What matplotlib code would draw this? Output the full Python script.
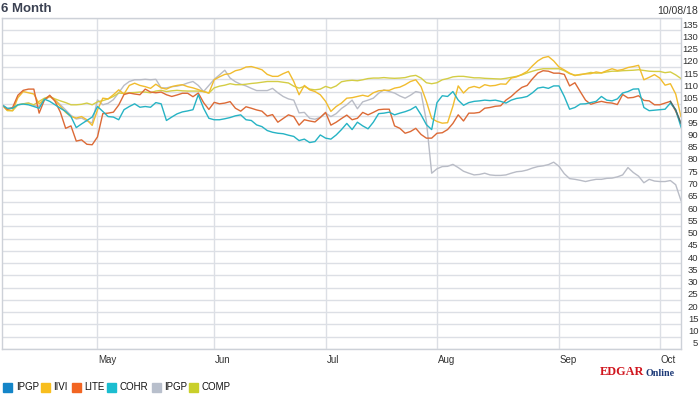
import matplotlib
matplotlib.use('Agg')
import matplotlib.pyplot as plt
from matplotlib.patches import Rectangle
import numpy as np

# normalised prices (start = 100), one value per trading day
cohr = [99.6, 98.2, 98.2, 99.6, 99.9, 99.6, 98.9, 98.2, 101.9, 101,
        99.6, 98.2, 96.9, 94.8, 90.3, 91.8, 93.2, 94.6, 98.9, 96.9,
        94.8, 94.6, 93.5, 97.6, 98.9, 100, 98.6, 98.9, 98.6, 100.5,
        100, 93.2, 94.6, 95.9, 96.7, 97.1, 97.6, 103.7, 98.2, 94.1,
        93.5, 93.5, 93.9, 94.4, 95.1, 95.5, 93.5, 93.2, 91.4, 90.7,
        89.1, 88.4, 88, 87.8, 87.2, 86.7, 85, 85.6, 84.2, 84.6,
        87.3, 86, 85.6, 87.3, 89.5, 92, 89.5, 92.5, 91, 89.8,
        92.5, 96, 96.2, 96.6, 95.5, 96.2, 96.8, 97.6, 98.9, 95.5,
        91.5, 89.5, 100.5, 103.3, 103, 105, 101.5, 99.4, 100.5, 101,
        101.2, 101.5, 101.3, 101.5, 101, 100.3, 101.5, 102.2, 102.5, 103,
        104.5, 106.4, 106.8, 106.3, 107.3, 107.3, 103, 97.8, 98.5, 99.9,
        100, 100.5, 101, 103, 101.5, 101.2, 102, 104.4, 105, 106,
        106.1, 98.5, 97.2, 97.4, 97.6, 97.8, 100.3, 97.6, 90.5]

lite = [99.6, 97.8, 98.5, 103.5, 105.5, 106, 106, 96.2, 101.6, 103.5,
        101, 96.6, 90, 91, 84.8, 85.3, 83.5, 83.3, 86.5, 96,
        96.2, 96.6, 99.5, 103.8, 104.4, 104, 103.7, 106, 104.8, 104.5,
        104.8, 103.7, 103, 103.6, 104.3, 104.3, 102.9, 104.4, 100.5, 97.7,
        100.6, 100, 100.3, 100.9, 98.2, 97, 98.8, 98.2, 97.5, 97,
        95, 95.6, 92.5, 94, 95.5, 94.8, 91.3, 93.5, 93, 92.6,
        94.4, 96.5, 91.3, 92.5, 94, 95.4, 93.5, 94.1, 96.5, 95.5,
        96.5, 97.6, 97.8, 97.8, 91, 90, 88, 88.7, 90, 87.5,
        86, 86, 88, 88.2, 89.5, 92, 95.5, 93, 96.2, 96.2,
        96.5, 98.2, 98.5, 99, 99.2, 101.5, 103, 105, 106.7, 107.5,
        110.2, 112.5, 113.5, 113.3, 112.5, 112.5, 112, 107.3, 108.6, 105,
        101.5, 99.8, 100.5, 101, 100.5, 100.3, 99.7, 103.8, 102.4, 102.6,
        103.3, 101.4, 101.2, 99.6, 99.6, 100.3, 101, 97, 92]

ipgp = [99.6, 97.6, 98.2, 99.6, 100, 100.3, 99.3, 99, 101.6, 103,
        101.6, 99.6, 97.5, 95.3, 93.8, 94.2, 93, 92.2, 101.6, 99.6,
        100.2, 101.7, 104.5, 107.5, 109.1, 109.8, 109.8, 110, 109.8, 110,
        106.5, 106.5, 107, 107.2, 107.7, 108.5, 109.1, 107.5, 105, 107.5,
        110, 111.8, 113.7, 110.5, 109, 108, 107.3, 106.3, 105.4, 105.4,
        105.4, 106.3, 104.5, 103, 102, 101.5, 96.3, 96.5, 94.1, 93.7,
        94.5, 96.2, 94.8, 96, 98.1, 99.6, 101.5, 98, 100.8, 101.5,
        102.3, 104.3, 105.7, 105, 104.4, 103.2, 102.3, 103.5, 105, 104.5,
        93, 71.7, 73.5, 74.4, 74.5, 75.3, 74, 72.5, 71.7, 71,
        71.2, 71.7, 71, 70.8, 70.8, 71, 71.7, 72.3, 72.5, 73,
        73.8, 74.4, 74.7, 75.2, 76.2, 74.5, 71.5, 69.5, 69.2, 68.8,
        68.3, 68.8, 69.2, 69.2, 69.6, 69.7, 70.2, 71, 74, 72,
        70.5, 67.8, 69.2, 68.5, 68.3, 68.3, 68.7, 67, 60.5]

iivi = [99.6, 97.4, 97.2, 102.5, 105, 104.5, 104, 100, 101.8, 103,
        101.5, 99, 96.5, 94.8, 94.2, 94.8, 93.5, 91.2, 97.5, 102.3,
        102, 103.7, 105.7, 104, 107.5, 108.4, 107.5, 107, 106.3, 108,
        106.5, 106, 107, 107.5, 107.8, 107, 106.5, 105.8, 105, 104.4,
        109.8, 111, 112, 112.3, 113.5, 114, 115, 115.2, 114.6, 113.9,
        112, 111.2, 111.2, 112.3, 113.2, 109.1, 103.7, 107.5, 105.7, 105,
        103.7, 101, 96.9, 98.9, 100.3, 102.3, 102.5, 103, 103.5, 103,
        104.5, 105.3, 105.5, 105.5, 106.4, 106.8, 107.8, 109.1, 109.8, 107,
        101, 94, 92.8, 92.1, 92.3, 99, 107.3, 104.4, 106.5, 107.1,
        106.5, 107.8, 107.3, 107.5, 108.1, 108, 110.5, 111, 112, 113.2,
        115.5, 117.5, 118.8, 119.3, 117.5, 115, 113.8, 112.5, 111.5, 112,
        112.2, 112.3, 113, 112.6, 113.5, 114.3, 113.6, 114, 114.8, 115.2,
        115.7, 109.8, 110.8, 111.9, 110.5, 107.6, 108.2, 104, 94.8]

comp = [99.6, 97.2, 97.2, 99.6, 100, 100.3, 99.6, 101, 102.3, 103,
        102, 101.2, 100.5, 99.6, 99.6, 99.8, 100.3, 99.6, 100.8, 101.3,
        102, 103, 104.4, 104.2, 104.5, 104.6, 104.8, 104.8, 104.5, 105.2,
        105.5, 105, 105.3, 105.5, 105.3, 105.2, 105.2, 105.2, 105, 104.4,
        106.5, 107.2, 107.6, 108.2, 107.8, 107.8, 108, 108.3, 108.5, 108.8,
        109.1, 109.1, 109.1, 108.8, 108.5, 107.2, 106.4, 107.1, 106, 105.7,
        106, 107.1, 106.4, 107.3, 109, 109.4, 109.6, 109.4, 109.8, 110.3,
        110.5, 110.5, 110.7, 110.5, 110.4, 110.5, 110.7, 111.3, 111.6, 110.5,
        108.6, 108.2, 108.6, 109.8, 110.3, 111, 111.2, 111.2, 110.9, 110.6,
        110.6, 110.4, 110.3, 110.2, 110.1, 110.4, 110.8, 111.2, 111.8, 112.6,
        113.3, 113.9, 114.3, 114.3, 114.3, 114.3, 113.5, 112.3, 111.7, 111.8,
        112.3, 112.8, 112.5, 112.6, 113, 113.3, 113.3, 113.5, 113.6, 113.7,
        113.9, 113.6, 113.3, 113.2, 113.2, 112.7, 113, 111.8, 110.3]

# main symbol only shows in the last few sessions
ipgp_main_tail = [101.0, 97.5, 92.0]

month_labels = ['May', 'Jun', 'Jul', 'Aug', 'Sep', 'Oct']
month_start_idx = [18, 40, 61, 82, 105, 124]

legend_names = ['IPGP', 'IIVI', 'LITE', 'COHR', 'IPGP', 'COMP']
legend_colors = ['#1485c8', '#f8be1e', '#f26522', '#1bbdd0', '#b8bfcc', '#c9cf2a']

days = np.arange(len(cohr))

fig = plt.figure(figsize=(7, 3.95), dpi=100)
ax = fig.add_axes([2 / 700, 1 - 349 / 395, 679 / 700, 331 / 395])

grid_c = '#dcdfe5'
ax.set_xlim(0, days[-1])
ax.set_ylim(0, 135)
ax.set_yticks(np.arange(0, 136, 5))
ax.set_yticklabels([])
ax.set_xticks(month_start_idx)
ax.set_xticklabels([])
ax.grid(True, color=grid_c, linewidth=1)
ax.tick_params(which='major', length=0)
for s in ax.spines.values():
    s.set_color('#cdd1d8')
    s.set_linewidth(1)

# y labels sit between grid lines
ax.set_yticks(np.arange(2.5, 135, 5), [str(v) for v in range(5, 136, 5)], minor=True)
ax.tick_params(which='minor', length=0, labelleft=False, labelright=True,
               labelsize=6.8, labelcolor='#333333', pad=12.5)
for lab in ax.get_yticklabels(minor=True):
    lab.set_horizontalalignment('right')
    lab.set_fontfamily('Liberation Sans')

for idx, lab in zip(month_start_idx, month_labels):
    ax.text(idx + 0.2, -4.4, lab, ha='left', va='center', fontsize=7,
            color='#333333', family='Liberation Sans')

ax.plot(days, ipgp, color='#b9bcc6', lw=1)
ax.plot(days, comp, color='#d4cd45', lw=1)
ax.plot(days, iivi, color='#f1bc2e', lw=1)
ax.plot(days, lite, color='#dc6a36', lw=1)
ax.plot(days, cohr, color='#26b3c4', lw=1)
ax.plot(days[-3:], ipgp_main_tail, color='#4a6b6c', lw=1)

fig.text(1 / 700, 1 - 9 / 395, '6 Month', fontsize=9.5, fontweight='bold',
         color='#3b4152', va='center', ha='left', family='Liberation Sans')
fig.text(698 / 700, 1 - 11 / 395, '10/08/18', fontsize=7.6, color='#333333',
         va='center', ha='right', family='Liberation Sans')

# legend row
x_sq = [3.3, 40.7, 71.7, 107, 151.7, 189]
for xs, name, col in zip(x_sq, legend_names, legend_colors):
    fig.patches.append(Rectangle((xs / 700, 1 - 392 / 395), 9 / 700, 9 / 395,
                                 transform=fig.transFigure, color=col))
    fig.text((xs + 12.5) / 700, 1 - 387.5 / 395, name, fontsize=7, color='#111111',
             va='center', ha='left', family='Liberation Sans')

fig.text(600 / 700, 1 - 372 / 395, 'EDGAR', fontsize=8.8, fontweight='bold',
         color='#d0161e', va='center', ha='left', family='Liberation Serif')
fig.text(645 / 700, 1 - 373.5 / 395, 'Online', fontsize=7.2, fontweight='bold',
         color='#1d3a78', va='center', ha='left', family='Liberation Serif')

fig.savefig('out.png', dpi=100)
